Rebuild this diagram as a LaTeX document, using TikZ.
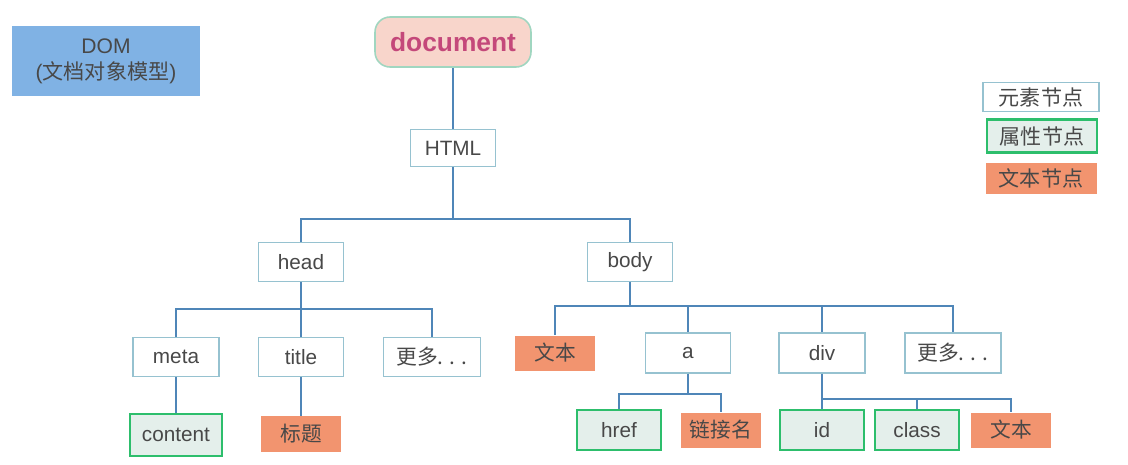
\documentclass[tikz,border=0pt]{standalone}
\usepackage{fontspec}
\setmainfont{Liberation Sans}
\newfontfamily\cjk{Noto Sans CJK SC}
\usepackage{xcolor}
\usepackage{tikz}
\usetikzlibrary{positioning}
\definecolor{linkblue}{RGB}{79, 134, 184}
\definecolor{elemborder}{RGB}{150, 194, 208}
\definecolor{attrgreen}{RGB}{45, 190, 108}
\definecolor{attrfill}{RGB}{228, 239, 235}
\definecolor{textsalmon}{RGB}{242, 148, 111}
\definecolor{domblue}{RGB}{128, 178, 228}
\definecolor{docpink}{RGB}{248, 213, 203}
\definecolor{docborder}{RGB}{160, 214, 192}
\definecolor{docmagenta}{RGB}{196, 72, 122}
\definecolor{inkgray}{RGB}{72, 72, 72}

\begin{document}
\begin{tikzpicture}[x=0.02cm, y=-0.02cm,
    elem/.style={draw=elemborder, fill=white, line width=0.9pt, text=inkgray,
                 font=\fontsize{11.8}{13}\selectfont, minimum width=1.7cm, minimum height=0.78cm, inner sep=0pt},
    attr/.style={draw=attrgreen, fill=attrfill, line width=1.6pt, text=inkgray,
                 font=\fontsize{11.8}{13}\selectfont, minimum width=1.68cm, minimum height=0.8cm, inner sep=0pt},
    txt/.style={fill=textsalmon, text=inkgray, font=\fontsize{11.8}{13}\selectfont,
                minimum width=1.6cm, minimum height=0.7cm, inner sep=0pt},
    link/.style={draw=linkblue, line width=1pt}]
        \useasboundingbox (0,0) rectangle (1128,464);

        % Title box and root
        \node[fill=domblue, text=inkgray, minimum width=3.76cm, minimum height=1.4cm, align=center,
              font=\fontsize{12}{15}\selectfont] (dom) at (106, 61) {DOM\\({\cjk 文档对象模型})};
        \node[fill=docpink, draw=docborder, line width=0.9pt, rounded corners=3mm, text=docmagenta,
              minimum width=3.12cm, minimum height=1cm, font=\fontsize{15}{17}\selectfont\bfseries] (doc) at (453, 42) {document};

        % Element nodes
        \node[elem, minimum height=0.74cm] (html) at (453, 148) {HTML};
        \node[elem] (head) at (301, 262) {head};
        \node[elem] (body) at (630, 262) {body};
        \node[elem, minimum width=1.72cm] (meta) at (176, 357) {meta};
        \node[elem] (title) at (301, 357) {title};
        \node[elem, minimum width=1.94cm] (more1) at (432, 357) {\cjk 更多. . .};
        \node[elem, minimum height=0.8cm] (a) at (688, 353) {a};
        \node[elem, minimum width=1.72cm, minimum height=0.8cm] (div) at (822, 353) {div};
        \node[elem, minimum width=1.92cm, minimum height=0.8cm] (more2) at (953, 353) {\cjk 更多. . .};

        % Attribute nodes
        \node[attr, minimum width=1.84cm, minimum height=0.84cm] (content) at (176, 435) {content};
        \node[attr] (href) at (619, 430) {href};
        \node[attr] (id) at (822, 430) {id};
        \node[attr] (class) at (917, 430) {class};

        % Text nodes
        \node[txt] (text1) at (555, 353) {\cjk 文本};
        \node[txt, minimum height=0.72cm] (heading) at (301, 434) {\cjk 标题};
        \node[txt] (linkname) at (721, 430) {\cjk 链接名};
        \node[txt] (text2) at (1011, 430) {\cjk 文本};

        % Connectors
        \draw[link] (doc.south) -- (html.north);
        \draw[link] (html.south) -- ++(0,52) -| (head.north);
        \draw[link] (html.south) -- ++(0,52) -| (body.north);
        \draw[link] (head.south) -- ++(0,27) -| (meta.north);
        \draw[link] (head.south) -- ++(0,27) -| (title.north);
        \draw[link] (head.south) -- ++(0,27) -| (more1.north);
        \draw[link] (body.south) -- ++(0,24) -| (text1.north);
        \draw[link] (body.south) -- ++(0,24) -| (a.north);
        \draw[link] (body.south) -- ++(0,24) -| (div.north);
        \draw[link] (body.south) -- ++(0,24) -| (more2.north);
        \draw[link] (meta.south) -- (content.north);
        \draw[link] (title.south) -- (heading.north);
        \draw[link] (a.south) -- ++(0,20) -| (href.north);
        \draw[link] (a.south) -- ++(0,20) -| (linkname.north);
        \draw[link] (div.south) -- (id.north);
        \draw[link] (div.south) -- ++(0,25) -| (class.north);
        \draw[link] (div.south) -- ++(0,25) -| (text2.north);

        % Legend
        \node[elem, minimum width=2.32cm, minimum height=0.58cm, font=\fontsize{12}{14}\selectfont] (legelem) at (1041, 97) {\cjk 元素节点};
        \node[attr, minimum width=2.2cm, minimum height=0.66cm, font=\fontsize{12}{14}\selectfont] (legattr) at (1042, 136) {\cjk 属性节点};
        \node[txt, minimum width=2.22cm, minimum height=0.62cm, font=\fontsize{12}{14}\selectfont] (legtext) at (1041, 178) {\cjk 文本节点};
    \end{tikzpicture}
\end{document}
